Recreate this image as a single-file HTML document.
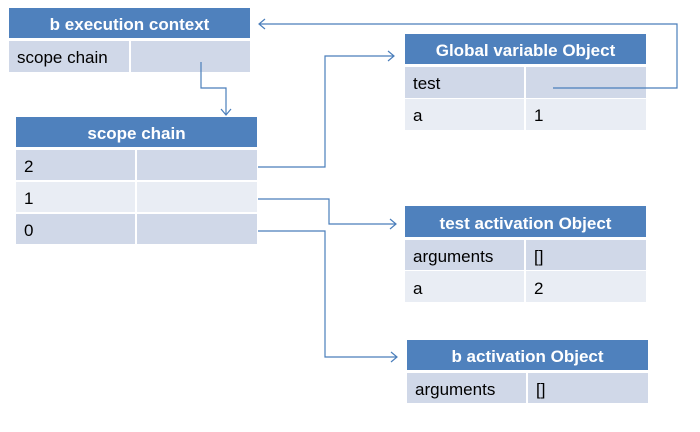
<!DOCTYPE html>
<html><head><meta charset="utf-8"><style>
html,body{margin:0;padding:0;background:#fff;width:700px;height:432px;overflow:hidden}
text{font-family:"Liberation Sans",sans-serif;font-size:17px;fill:#000}
.h{fill:#fff;font-weight:bold;font-size:17px;text-anchor:middle}
</style></head><body>
<svg width="700" height="432" viewBox="0 0 700 432" xmlns="http://www.w3.org/2000/svg">
<g stroke="none">
<rect x="9" y="8" width="241" height="30" fill="#4f81bd"/>
<rect x="9" y="41" width="120" height="31" fill="#d0d8e8"/>
<rect x="131" y="41" width="119" height="31" fill="#d0d8e8"/>
<rect x="16" y="117" width="241" height="30" fill="#4f81bd"/>
<rect x="16" y="150" width="119" height="30" fill="#d0d8e8"/>
<rect x="137" y="150" width="120" height="30" fill="#d0d8e8"/>
<rect x="16" y="182" width="119" height="30" fill="#e9edf4"/>
<rect x="137" y="182" width="120" height="30" fill="#e9edf4"/>
<rect x="16" y="214" width="119" height="30" fill="#d0d8e8"/>
<rect x="137" y="214" width="120" height="30" fill="#d0d8e8"/>
<rect x="405" y="34" width="241" height="30" fill="#4f81bd"/>
<rect x="405" y="67" width="119" height="31" fill="#d0d8e8"/>
<rect x="526" y="67" width="120" height="31" fill="#d0d8e8"/>
<rect x="405" y="99" width="119" height="31" fill="#e9edf4"/>
<rect x="526" y="99" width="120" height="31" fill="#e9edf4"/>
<rect x="405" y="206" width="241" height="31" fill="#4f81bd"/>
<rect x="405" y="240" width="119" height="30" fill="#d0d8e8"/>
<rect x="526" y="240" width="120" height="30" fill="#d0d8e8"/>
<rect x="405" y="271" width="119" height="31" fill="#e9edf4"/>
<rect x="526" y="271" width="120" height="31" fill="#e9edf4"/>
<rect x="407" y="340" width="241" height="30" fill="#4f81bd"/>
<rect x="407" y="373" width="119" height="30" fill="#d0d8e8"/>
<rect x="528" y="373" width="120" height="30" fill="#d0d8e8"/>
</g>
<text class="h" x="129.5" y="30">b execution context</text>
<text x="17" y="63">scope chain</text>
<text class="h" x="136.5" y="139">scope chain</text>
<text x="24" y="172">2</text>
<text x="24" y="204">1</text>
<text x="24" y="236">0</text>
<text class="h" x="525.5" y="56">Global variable Object</text>
<text x="413" y="89">test</text>
<text x="413" y="121">a</text>
<text x="534" y="121">1</text>
<text class="h" x="525.5" y="229">test activation Object</text>
<text x="413" y="262">arguments</text>
<text x="534" y="262">[]</text>
<text x="413" y="294">a</text>
<text x="534" y="294">2</text>
<text class="h" x="527.5" y="362">b activation Object</text>
<text x="415" y="395">arguments</text>
<text x="536" y="395">[]</text>
<g fill="none" stroke="#4a7ebb" stroke-width="1.2">
<polyline points="201,62 201,88 226,88 226,115"/>
<polyline points="221,109 226,115 231,109"/>
<polyline points="553,88 677,88 677,24 259,24"/>
<polyline points="265,19 259,24 265,29"/>
<polyline points="258,167 325,167 325,56 394,56"/>
<polyline points="388,51 394,56 388,61"/>
<polyline points="258,199 329,199 329,224 396,224"/>
<polyline points="390,219 396,224 390,229"/>
<polyline points="258,231 325,231 325,357 397,357"/>
<polyline points="391,352 397,357 391,362"/>
</g>
</svg>
</body></html>
